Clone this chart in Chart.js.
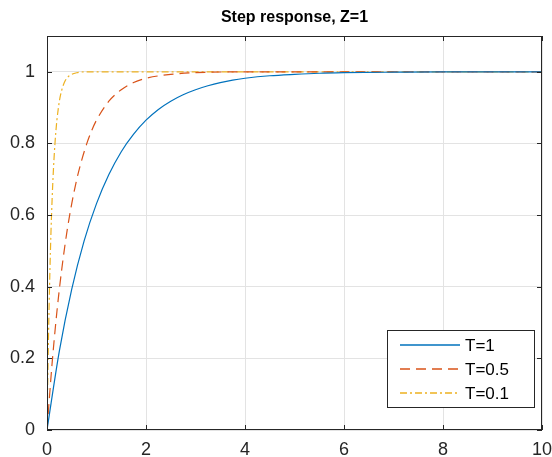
<!DOCTYPE html>
<html>
<head>
<meta charset="utf-8">
<script src="https://cdn.jsdelivr.net/npm/chart.js@4/dist/chart.umd.min.js"></script>
<style>
  html, body { margin: 0; padding: 0; background: #fff; }
  #wrap { width: 552px; height: 457px; position: relative; }
</style>
</head>
<body>
<div id="wrap"><canvas id="stepChart" width="552" height="457"></canvas></div>
<script>
// step responses for three time constants (t, y)
const tT1  = [0, 0.25, 0.5, 0.75, 1, 1.25, 1.5, 1.75, 2, 2.25, 2.5, 2.75, 3, 3.25, 3.5, 3.75, 4, 4.5, 5, 5.5, 6, 7, 8, 9, 10];
const yT1  = [0, 0.221, 0.393, 0.528, 0.632, 0.713, 0.777, 0.826, 0.865, 0.895, 0.918, 0.936, 0.95, 0.961, 0.97, 0.977, 0.982, 0.989, 0.993, 0.996, 0.9975, 0.999, 1, 1, 1];
const tT05 = [0, 0.1, 0.2, 0.3, 0.4, 0.5, 0.6, 0.7, 0.8, 0.9, 1, 1.25, 1.5, 1.75, 2, 2.5, 3, 4, 10];
const yT05 = [0, 0.181, 0.33, 0.451, 0.551, 0.632, 0.699, 0.753, 0.798, 0.835, 0.865, 0.918, 0.95, 0.97, 0.982, 0.993, 0.9975, 1, 1];
const tT01 = [0, 0.02, 0.04, 0.06, 0.08, 0.1, 0.12, 0.14, 0.16, 0.18, 0.2, 0.25, 0.3, 0.35, 0.4, 0.5, 0.6, 0.8, 10];
const yT01 = [0, 0.181, 0.33, 0.451, 0.551, 0.632, 0.699, 0.753, 0.798, 0.835, 0.865, 0.918, 0.95, 0.97, 0.982, 0.993, 0.9975, 1, 1];

const seriesLabels = ['T=1', 'T=0.5', 'T=0.1'];
const xTicks = [0, 2, 4, 6, 8, 10];
const yTicks = [0, 0.2, 0.4, 0.6, 0.8, 1];
const titleText = 'Step response, Z=1';

const COLORS = ['#0072BD', '#D95319', '#EDB120'];
const DASHES = [[], [10, 6], [7, 3, 2, 3]];
const AXIS = '#262626';
const FONT = '"Liberation Sans", Arial, sans-serif';

function pts(t, y) { return t.map((v, i) => ({ x: v, y: y[i] })); }

// matlab-style box, inward ticks, title and in-axes legend
const boxPlugin = {
  id: 'boxPlugin',
  afterDraw(chart) {
    const { ctx, chartArea: a, scales } = chart;
    ctx.save();
    ctx.strokeStyle = AXIS;
    ctx.lineWidth = 1;
    ctx.strokeRect(a.left + 0.5, a.top + 0.5, a.right - a.left - 1, a.bottom - a.top - 1);
    ctx.beginPath();
    scales.x.ticks.forEach(t => {
      const px = Math.round(scales.x.getPixelForValue(t.value)) + 0.5;
      ctx.moveTo(px, a.bottom); ctx.lineTo(px, a.bottom - 5);
      ctx.moveTo(px, a.top); ctx.lineTo(px, a.top + 5);
    });
    scales.y.ticks.forEach(t => {
      const py = Math.round(scales.y.getPixelForValue(t.value)) + 0.5;
      ctx.moveTo(a.left, py); ctx.lineTo(a.left + 5, py);
      ctx.moveTo(a.right, py); ctx.lineTo(a.right - 5, py);
    });
    ctx.stroke();

    // title
    ctx.fillStyle = '#000';
    ctx.font = 'bold 16px ' + FONT;
    ctx.textAlign = 'center';
    ctx.textBaseline = 'middle';
    ctx.fillText(titleText, (a.left + a.right) / 2, 18);

    // legend
    const lx = 387, ly = 330, lw = 147, lh = 77;
    ctx.fillStyle = '#fff';
    ctx.fillRect(lx, ly, lw, lh);
    ctx.strokeStyle = AXIS;
    ctx.strokeRect(lx + 0.5, ly + 0.5, lw, lh);
    ctx.font = '17px ' + FONT;
    ctx.textAlign = 'left';
    seriesLabels.forEach((label, i) => {
      const y = ly + 15 + i * 24;
      ctx.strokeStyle = COLORS[i];
      ctx.lineWidth = 1.3;
      ctx.setLineDash(DASHES[i]);
      ctx.beginPath();
      ctx.moveTo(lx + 13, y);
      ctx.lineTo(lx + 73, y);
      ctx.stroke();
      ctx.setLineDash([]);
      ctx.fillStyle = '#000';
      ctx.fillText(label, lx + 78, y + 1);
    });
    ctx.restore();
  }
};

new Chart(document.getElementById('stepChart'), {
  type: 'line',
  data: {
    datasets: [
      { label: seriesLabels[0], data: pts(tT1, yT1), borderColor: COLORS[0], borderWidth: 1.2, borderDash: DASHES[0] },
      { label: seriesLabels[1], data: pts(tT05, yT05), borderColor: COLORS[1], borderWidth: 1.2, borderDash: DASHES[1] },
      { label: seriesLabels[2], data: pts(tT01, yT01), borderColor: COLORS[2], borderWidth: 1.2, borderDash: DASHES[2] }
    ]
  },
  options: {
    responsive: false,
    animation: false,
    parsing: false,
    layout: { padding: { top: 36, right: 10, left: 0, bottom: 0 } },
    elements: {
      point: { radius: 0 },
      line: { cubicInterpolationMode: 'monotone', fill: false }
    },
    plugins: { legend: { display: false }, title: { display: false }, tooltip: { enabled: false } },
    scales: {
      x: {
        type: 'linear', min: 0, max: 10,
        afterBuildTicks: s => { s.ticks = xTicks.map(v => ({ value: v })); },
        afterFit: s => { s.height = 27; s.paddingLeft = 0; s.paddingRight = 0; },
        grid: { color: '#e3e3e3', drawTicks: false },
        border: { display: false },
        ticks: { color: AXIS, padding: 9, font: { family: FONT, size: 18 }, maxRotation: 0 }
      },
      y: {
        type: 'linear', min: 0, max: 1.1,
        afterBuildTicks: s => { s.ticks = yTicks.map(v => ({ value: v })); },
        afterFit: s => { s.width = 47; s.paddingTop = 0; s.paddingBottom = 0; },
        grid: { color: '#e3e3e3', drawTicks: false },
        border: { display: false },
        ticks: { color: AXIS, padding: 12, font: { family: FONT, size: 18 }, callback: v => String(+v.toFixed(1)) }
      }
    }
  },
  plugins: [boxPlugin]
});
</script>
</body>
</html>
